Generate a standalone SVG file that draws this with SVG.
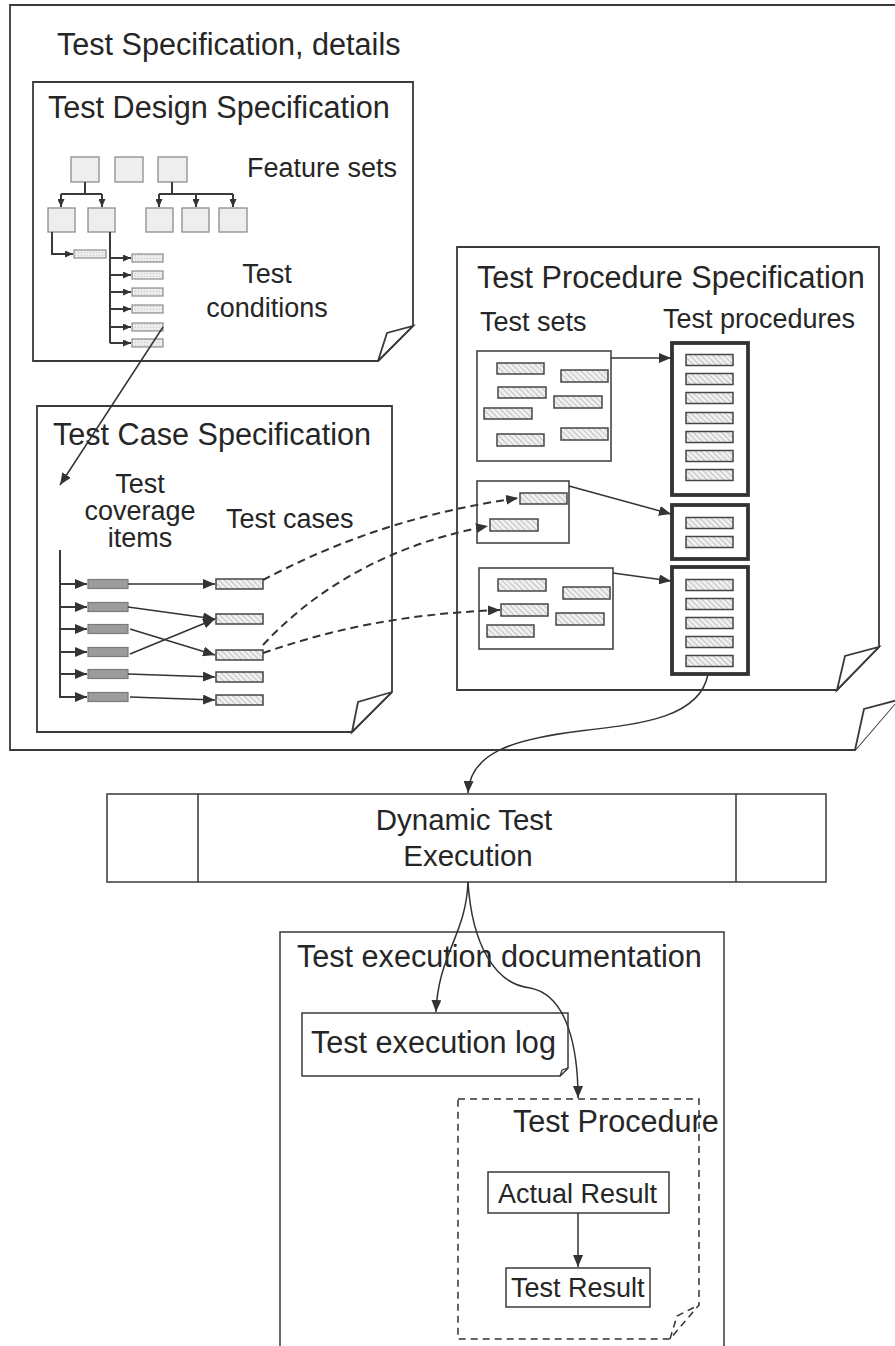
<svg xmlns="http://www.w3.org/2000/svg" width="895" height="1346" viewBox="0 0 895 1346">
<style>
text{font-family:"Liberation Sans",Arial,Helvetica,sans-serif;fill:#262626}
.big{font-size:30.6px}
.mid{font-size:27px}
.frame{fill:#fff;stroke:#3a3a3a;stroke-width:1.8;stroke-linejoin:miter}
.flap{fill:#fff;stroke:#3a3a3a;stroke-width:1.8;stroke-linejoin:miter}
.fbox{fill:#eeeeee;stroke:#8c8c8c;stroke-width:1.3}
.cbar{fill:url(#dots);stroke:#8c8c8c;stroke-width:1.2}
.ci{fill:#9c9c9c;stroke:#7a7a7a;stroke-width:1.2}
.hb{fill:url(#hatch);stroke:#454545;stroke-width:1.5}
.set{fill:#fff;stroke:#454545;stroke-width:1.6}
.proc{fill:#fff;stroke:#333;stroke-width:3.8}
.tree{fill:none;stroke:#3a3a3a;stroke-width:2}
.ln{fill:none;stroke:#333;stroke-width:1.5}
.dash{fill:none;stroke:#333;stroke-width:2;stroke-dasharray:8 5}
.box{fill:#fff;stroke:#3a3a3a;stroke-width:1.5}
</style>
<defs>
<pattern id="hatch" width="4" height="4" patternUnits="userSpaceOnUse" patternTransform="rotate(-45)">
<rect width="4" height="4" fill="#f0f0f0"/>
<line x1="0" y1="0" x2="0" y2="4" stroke="#a8a8a8" stroke-width="1.3"/>
</pattern>
<pattern id="dots" width="3" height="3" patternUnits="userSpaceOnUse">
<rect width="3" height="3" fill="#ececec"/>
<rect width="1" height="1" fill="#c8c8c8"/>
</pattern>
<marker id="ah" viewBox="0 0 12 10" markerWidth="12" markerHeight="10" refX="12" refY="5" orient="auto" markerUnits="userSpaceOnUse">
<path d="M0,0 L12,5 L0,10 z" fill="#333"/>
</marker>
<marker id="as" viewBox="0 0 8 7" markerWidth="8" markerHeight="7" refX="8" refY="3.5" orient="auto" markerUnits="userSpaceOnUse">
<path d="M0,0 L8,3.5 L0,7 z" fill="#333"/>
</marker>
</defs>
<rect width="895" height="1346" fill="#fff"/>

<g id="test-specification">
<path class="frame" d="M10,5 H898 V700 L855,750 H10 Z"/>
<path class="flap" d="M855,750 L864,709 L898,700"/>
<text class="big" x="57" y="55">Test Specification, details</text>
</g>

<g id="test-design-specification">
<path class="frame" d="M33,82 H413 V326 L378,361 H33 Z"/>
<path class="flap" d="M378,361 L387,333 L413,326 Z"/>
<text class="big" x="48" y="118">Test Design Specification</text>
<text class="mid" x="247" y="177">Feature sets</text>
<text class="mid" x="267" y="283" text-anchor="middle">Test</text>
<text class="mid" x="267" y="317" text-anchor="middle">conditions</text>
<rect class="fbox" x="71" y="157" width="28" height="25"/>
<rect class="fbox" x="115" y="157" width="28" height="25"/>
<rect class="fbox" x="158" y="157" width="29" height="25"/>
<rect class="fbox" x="48" y="208" width="27" height="24"/>
<rect class="fbox" x="88" y="208" width="27" height="24"/>
<rect class="fbox" x="146" y="208" width="27" height="24"/>
<rect class="fbox" x="182" y="208" width="27" height="24"/>
<rect class="fbox" x="219" y="208" width="28" height="24"/>
<path class="tree" d="M85,182 V194 M61,194 H102 M172,182 V194 M159,194 H233"/>
<path class="tree" d="M61,194 V207" marker-end="url(#as)"/>
<path class="tree" d="M102,194 V207" marker-end="url(#as)"/>
<path class="tree" d="M159,194 V207" marker-end="url(#as)"/>
<path class="tree" d="M196,194 V207" marker-end="url(#as)"/>
<path class="tree" d="M233,194 V207" marker-end="url(#as)"/>
<path class="tree" d="M52,232 V254 H73" marker-end="url(#as)"/>
<path class="tree" d="M110,232 V343"/>
<path class="tree" d="M110,258 H131" marker-end="url(#as)"/>
<path class="tree" d="M110,275 H131" marker-end="url(#as)"/>
<path class="tree" d="M110,292 H131" marker-end="url(#as)"/>
<path class="tree" d="M110,309 H131" marker-end="url(#as)"/>
<path class="tree" d="M110,327 H131" marker-end="url(#as)"/>
<path class="tree" d="M110,343 H131" marker-end="url(#as)"/>
<rect class="cbar" x="74" y="250" width="32" height="8"/>
<rect class="cbar" x="132" y="254" width="31" height="8"/>
<rect class="cbar" x="132" y="271" width="31" height="8"/>
<rect class="cbar" x="132" y="288" width="31" height="8"/>
<rect class="cbar" x="132" y="305" width="31" height="8"/>
<rect class="cbar" x="132" y="323" width="31" height="8"/>
<rect class="cbar" x="132" y="339" width="31" height="8"/>
</g>

<g id="test-case-specification">
<path class="frame" d="M37,406 H392 V692 L352,732 H37 Z"/>
<path class="flap" d="M352,732 L358,702 L392,692 Z"/>
<text class="big" x="53" y="445">Test Case Specification</text>
<text class="mid" x="140" y="493" text-anchor="middle">Test</text>
<text class="mid" x="140" y="520" text-anchor="middle">coverage</text>
<text class="mid" x="140" y="547" text-anchor="middle">items</text>
<text class="mid" x="226" y="528">Test cases</text>
<path class="tree" d="M60,550 V698"/>
<path class="tree" d="M60,584 H87" marker-end="url(#ah)"/>
<path class="tree" d="M60,607 H87" marker-end="url(#ah)"/>
<path class="tree" d="M60,629 H87" marker-end="url(#ah)"/>
<path class="tree" d="M60,652 H87" marker-end="url(#ah)"/>
<path class="tree" d="M60,674 H87" marker-end="url(#ah)"/>
<path class="tree" d="M60,697 H87" marker-end="url(#ah)"/>
<rect class="ci" x="88" y="579.5" width="40" height="9"/>
<rect class="ci" x="88" y="602.5" width="40" height="9"/>
<rect class="ci" x="88" y="624.5" width="40" height="9"/>
<rect class="ci" x="88" y="647.5" width="40" height="9"/>
<rect class="ci" x="88" y="669.5" width="40" height="9"/>
<rect class="ci" x="88" y="692.5" width="40" height="9"/>
<rect class="hb" x="216" y="579" width="47" height="10"/>
<rect class="hb" x="216" y="614" width="47" height="10"/>
<rect class="hb" x="216" y="650" width="47" height="10"/>
<rect class="hb" x="216" y="672" width="47" height="10"/>
<rect class="hb" x="216" y="695" width="47" height="10"/>
</g>

<g id="test-procedure-specification">
<path class="frame" d="M457,247 H879 V647 L837,690 H457 Z"/>
<path class="flap" d="M837,690 L845,656 L879,647 Z"/>
<text class="big" x="477" y="288">Test Procedure Specification</text>
<text class="mid" x="480" y="331">Test sets</text>
<text class="mid" x="663" y="328">Test procedures</text>
<g id="test-set-1">
<rect class="set" x="477" y="351" width="134" height="110"/>
<rect class="hb" x="497" y="363" width="47" height="11"/>
<rect class="hb" x="561" y="370" width="47" height="12"/>
<rect class="hb" x="498" y="387" width="48" height="11"/>
<rect class="hb" x="554" y="396" width="48" height="12"/>
<rect class="hb" x="484" y="408" width="48" height="11"/>
<rect class="hb" x="497" y="434" width="47" height="12"/>
<rect class="hb" x="561" y="428" width="47" height="12"/>
</g>
<g id="test-set-2">
<rect class="set" x="477" y="481" width="92" height="62"/>
<rect class="hb" x="520" y="493" width="47" height="11"/>
<rect class="hb" x="490" y="519" width="48" height="12"/>
</g>
<g id="test-set-3">
<rect class="set" x="479" y="568" width="134" height="81"/>
<rect class="hb" x="498" y="579" width="48" height="12"/>
<rect class="hb" x="563" y="587" width="47" height="12"/>
<rect class="hb" x="501" y="604" width="47" height="12"/>
<rect class="hb" x="556" y="613" width="48" height="12"/>
<rect class="hb" x="487" y="625" width="47" height="12"/>
</g>
<g id="test-procedure-1">
<rect class="proc" x="672" y="343" width="76" height="152"/>
<rect class="hb" x="686" y="354.5" width="47" height="11"/>
<rect class="hb" x="686" y="373.5" width="47" height="11"/>
<rect class="hb" x="686" y="392.5" width="47" height="11"/>
<rect class="hb" x="686" y="412.5" width="47" height="11"/>
<rect class="hb" x="686" y="431.5" width="47" height="11"/>
<rect class="hb" x="686" y="450.5" width="47" height="11"/>
<rect class="hb" x="686" y="469.5" width="47" height="11"/>
</g>
<g id="test-procedure-2">
<rect class="proc" x="672" y="505" width="76" height="54"/>
<rect class="hb" x="686" y="517.5" width="47" height="11"/>
<rect class="hb" x="686" y="536.5" width="47" height="11"/>
</g>
<g id="test-procedure-3">
<rect class="proc" x="672" y="567" width="76" height="107"/>
<rect class="hb" x="686" y="579.5" width="47" height="11"/>
<rect class="hb" x="686" y="598.5" width="47" height="11"/>
<rect class="hb" x="686" y="617.5" width="47" height="11"/>
<rect class="hb" x="686" y="636.5" width="47" height="11"/>
<rect class="hb" x="686" y="655.5" width="47" height="11"/>
</g>
</g>

<g id="dynamic-test-execution">
<rect class="box" x="107" y="794" width="719" height="88"/>
<path class="ln" d="M198,794 V882 M736,794 V882"/>
<text x="464" y="830" text-anchor="middle" style="font-size:29.5px">Dynamic Test</text>
<text x="468" y="866" text-anchor="middle" style="font-size:29.5px">Execution</text>
</g>

<g id="test-execution-documentation">
<rect class="box" x="280" y="932" width="444" height="430"/>
<text class="big" x="297" y="967">Test execution documentation</text>
</g>

<g id="test-execution-log">
<path class="frame" style="stroke-width:1.5" d="M302,1013 H568 V1068 L560,1076 H302 Z"/>
<path class="flap" style="stroke-width:1.2" d="M560,1076 L562,1070 L568,1068 Z"/>
<text class="big" x="311" y="1053">Test execution log</text>
</g>

<g id="test-procedure-doc">
<path d="M458,1099 H699 V1305 L670,1339 H458 Z" fill="#fff" stroke="#333" stroke-width="1.5" stroke-dasharray="7 5"/>
<path d="M670,1339 L677,1316 L699,1305" fill="none" stroke="#333" stroke-width="1.5" stroke-dasharray="7 5"/>
<text class="big" x="513" y="1132">Test Procedure</text>
</g>

<g id="actual-result">
<rect class="box" x="488" y="1172" width="181" height="41"/>
<text class="mid" x="498" y="1203">Actual Result</text>
</g>

<g id="test-result">
<rect class="box" x="506" y="1268" width="144" height="39"/>
<text class="mid" x="511" y="1297">Test Result</text>
</g>

<g id="connectors">
<path class="ln" d="M163,327 L60,485" marker-end="url(#ah)"/>
<path class="ln" d="M128,584 L215,584" marker-end="url(#ah)"/>
<path class="ln" d="M128,607 L215,619" marker-end="url(#ah)"/>
<path class="ln" d="M130,629 L215,655" marker-end="url(#ah)"/>
<path class="ln" d="M130,654 L215,619" marker-end="url(#ah)"/>
<path class="ln" d="M128,674 L215,677" marker-end="url(#ah)"/>
<path class="ln" d="M130,697 L215,700" marker-end="url(#ah)"/>
<path class="dash" d="M263,580 C320,550 400,515 518,498" marker-end="url(#ah)"/>
<path class="dash" d="M263,645 C300,605 370,548 488,526" marker-end="url(#ah)"/>
<path class="dash" d="M263,653 C330,630 400,614 500,610" marker-end="url(#ah)"/>
<path class="ln" d="M611,358 H671" marker-end="url(#ah)"/>
<path class="ln" d="M569,486 L671,514" marker-end="url(#ah)"/>
<path class="ln" d="M613,573 L671,581" marker-end="url(#ah)"/>
<path class="ln" d="M708,674 C700,718 640,724 580,731 C515,739 470,752 468,793" marker-end="url(#ah)"/>
<path class="ln" d="M468,882 C466,935 438,955 436,1012" marker-end="url(#ah)"/>
<path class="ln" d="M468,882 C472,945 495,984 530,988 C568,995 578,1050 578,1098" marker-end="url(#ah)"/>
<path class="ln" d="M578,1213 V1267" marker-end="url(#ah)"/>
</g>
</svg>
